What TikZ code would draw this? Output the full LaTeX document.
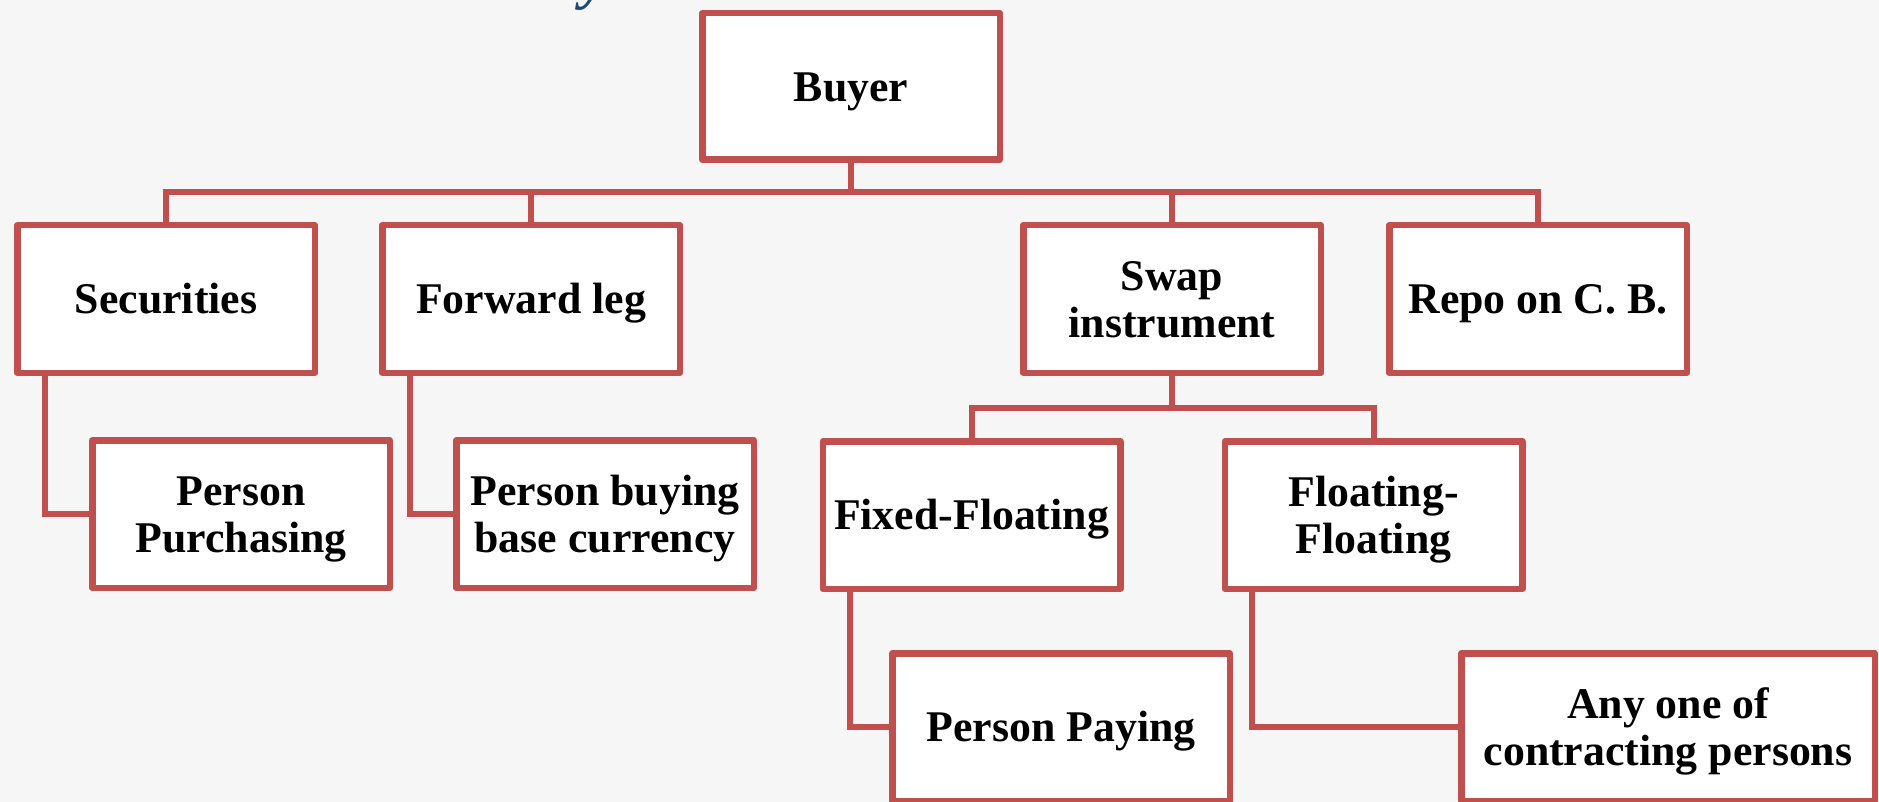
\documentclass[tikz,border=0pt]{standalone}
\usepackage{fontspec}
\setmainfont{Liberation Serif}
\definecolor{boxred}{RGB}{192,80,77}
\definecolor{titleblue}{RGB}{31,73,125}
\definecolor{paper}{RGB}{246,246,246}
\newcommand\topstrut{\rule{0pt}{40pt}}

\begin{document}
\begin{tikzpicture}[x=1pt,y=1pt,yscale=-1,xscale=1,
  box/.style={rectangle, draw=boxred, line width=6.5pt, fill=white, line join=round,
    minimum width=297.5pt, minimum height=147.5pt, inner sep=0pt, align=center,
    font=\fontsize{43.8}{47}\selectfont\bfseries,
    execute at begin node={\rule[-9.4pt]{0pt}{48.2pt}},
    execute at end node={\rule[-9.4pt]{0pt}{48.2pt}}},
  link/.style={draw=boxred, line width=6pt}]
%set diagram left start at 0, and has height of 802
\clip (0,0) rectangle (1879,802);
\fill [paper] (0,0) rectangle (1879,802);

%Text Node: tail of the cut title
\node (ttl) [anchor=base, text=titleblue, inner sep=0pt, font=\fontsize{60}{60}\selectfont\bfseries\itshape] at (595,-2) {y};

%Shape: Rectangle, top
\node (buyer) [box, minimum height=146.5pt] at (851,86.5) {Buyer};

%Shape: Rectangle, second row
\node (secur) [box] at (166,299) {Securities};
\node (fwdleg) [box] at (531,299) {Forward leg};
\node (swap) [box] at (1172,299) {\topstrut Swap\\instrument};
\node (repo) [box] at (1538,299) {Repo on C. B.};

%Shape: Rectangle, third row
\node (purch) [box] at (241,514) {\topstrut Person\\Purchasing};
\node (basecur) [box] at (605,514) {\topstrut Person buying\\base currency};
\node (fixfl) [box] at (971.5,515) {Fixed-Floating};
\node (flfl) [box] at (1373.5,515) {\topstrut Floating-\\Floating};

%Shape: Rectangle, bottom row
\node (paying) [box, minimum width=337.5pt] at (1061,727) {Person Paying};
\node (anyone) [box, minimum width=413.5pt] at (1668,727) {\topstrut Any one of\\contracting persons};

%Straight Lines: buyer to second row
\draw [link] (buyer.south) -- ++(0,29) -| (secur.north);
\draw [link] (buyer.south) -- ++(0,29) -| (fwdleg.north);
\draw [link] (buyer.south) -- ++(0,29) -| (swap.north);
\draw [link] (buyer.south) -- ++(0,29) -| (repo.north);

%Straight Lines: swap to its two kinds
\draw [link] (swap.south) -- ++(0,32) -| (fixfl.north);
\draw [link] (swap.south) -- ++(0,32) -| (flfl.north);

%Straight Lines: elbows down to the persons
\draw [link] ([xshift=30.5pt]secur.south west) |- (purch.west);
\draw [link] ([xshift=30.5pt]fwdleg.south west) |- (basecur.west);
\draw [link] ([xshift=30.5pt]fixfl.south west) |- (paying.west);
\draw [link] ([xshift=30.5pt]flfl.south west) |- (anyone.west);

\end{tikzpicture}
\end{document}
